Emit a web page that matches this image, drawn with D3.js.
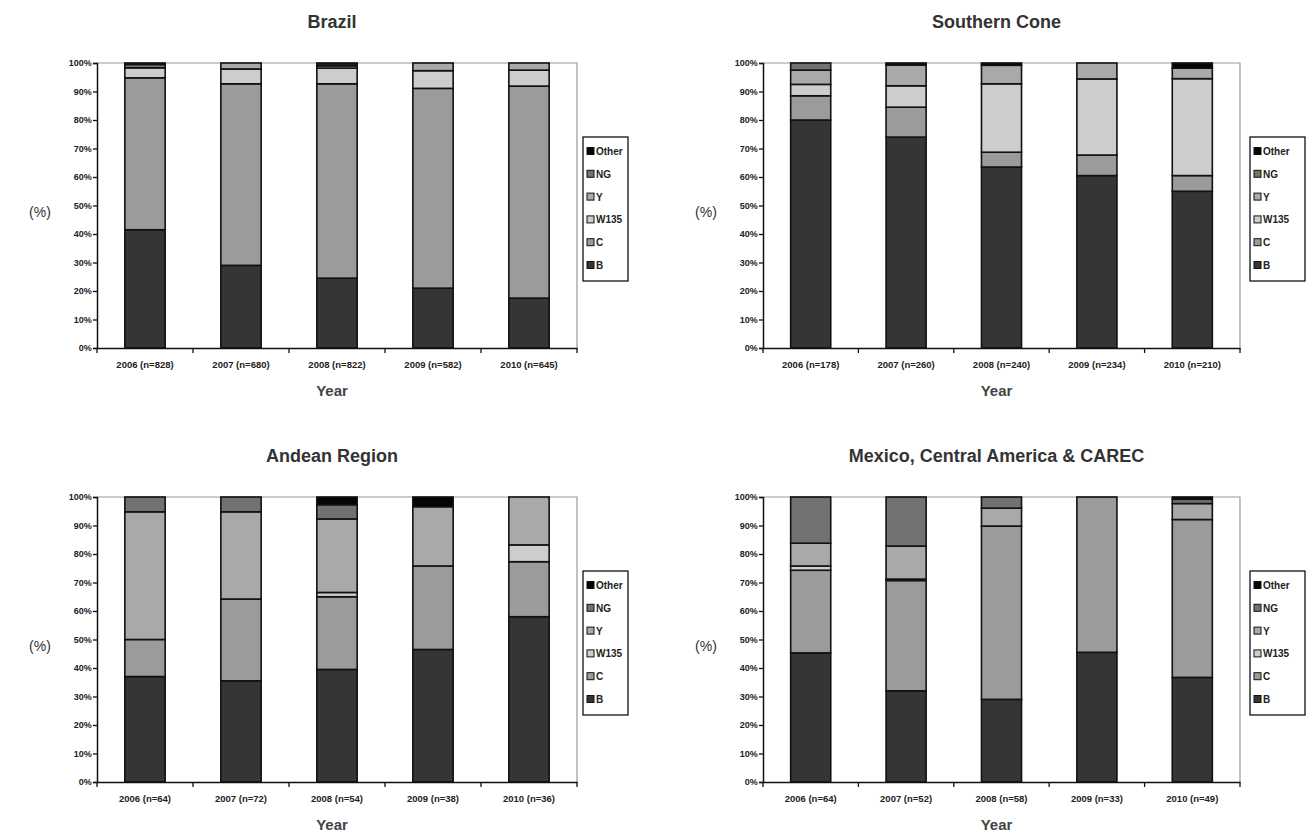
<!DOCTYPE html>
<html>
<head>
<meta charset="utf-8">
<script src="https://cdn.jsdelivr.net/npm/d3@7"></script>
<style>
  body { margin: 0; background: #fff; }
  svg text { font-family: "Liberation Sans", Arial, sans-serif; }
</style>
</head>
<body>
<div id="container"></div>
<script>
const series = ["B", "C", "W135", "Y", "NG", "Other"];
const legendOrder = ["Other", "NG", "Y", "W135", "C", "B"];
const years = ["2006", "2007", "2008", "2009", "2010"];
const yTicks = [0, 10, 20, 30, 40, 50, 60, 70, 80, 90, 100];

// Brazil
const brazilN = [828, 680, 822, 582, 645];
const brazilB = [41.5, 29, 24.5, 21, 17.5];
const brazilC = [53.3, 63.7, 68.2, 70.1, 74.4];
const brazilW135 = [3.5, 5.2, 5.5, 6.2, 5.6];
const brazilY = [0, 2.1, 0.8, 2.7, 2.5];
const brazilNG = [1.2, 0, 0.7, 0, 0];
const brazilOther = [0.5, 0, 0.3, 0, 0];

// Southern Cone
const southN = [178, 260, 240, 234, 210];
const southB = [80, 74, 63.5, 60.5, 55];
const southC = [8.5, 10.5, 5.2, 7.2, 5.5];
const southW135 = [4, 7.5, 24, 26.7, 34];
const southY = [5, 7.3, 6.5, 5.6, 3.7];
const southNG = [2.5, 0.3, 0, 0, 0];
const southOther = [0, 0.4, 0.8, 0, 1.8];

// Andean Region
const andeanN = [64, 72, 54, 38, 36];
const andeanB = [37, 35.5, 39.5, 46.5, 58];
const andeanC = [13, 28.7, 25.5, 29.3, 19.3];
const andeanW135 = [0, 0, 1.5, 0, 5.9];
const andeanY = [44.8, 30.6, 25.8, 20.8, 16.8];
const andeanNG = [5.2, 5.2, 5, 0, 0];
const andeanOther = [0, 0, 2.7, 3.4, 0];

// Mexico, Central America & CAREC
const mexicoN = [64, 52, 58, 33, 49];
const mexicoB = [45.3, 32, 29, 45.5, 36.7];
const mexicoC = [29, 38.7, 60.8, 54.5, 55.4];
const mexicoW135 = [1.5, 0.5, 0, 0, 0];
const mexicoY = [8, 11.6, 6.3, 0, 5.6];
const mexicoNG = [16.2, 17.2, 3.9, 0, 1.5];
const mexicoOther = [0, 0, 0, 0, 0.8];

const color = d3.scaleOrdinal()
  .domain(series)
  .range(["#353535", "#9b9b9b", "#cdcdcd", "#a9a9a9", "#727272", "#050505"]);

const width = 1313, height = 839;

const svg = d3.select("#container")
  .append("svg")
  .attr("width", width)
  .attr("height", height);

const makeRows = (n, cols) => years.map((yr, i) => {
  const row = { label: `${yr} (n=${n[i]})` };
  series.forEach((s, j) => row[s] = cols[j][i]);
  return row;
});

const panels = [
  { title: "Brazil", x0: 97, x1: 577, y0: 63, y1: 348, lx: 583, lw: 45,
    rows: makeRows(brazilN, [brazilB, brazilC, brazilW135, brazilY, brazilNG, brazilOther]) },
  { title: "Southern Cone", x0: 763, x1: 1240, y0: 63, y1: 348, lx: 1250, lw: 55,
    rows: makeRows(southN, [southB, southC, southW135, southY, southNG, southOther]) },
  { title: "Andean Region", x0: 97, x1: 577, y0: 497, y1: 782, lx: 583, lw: 45,
    rows: makeRows(andeanN, [andeanB, andeanC, andeanW135, andeanY, andeanNG, andeanOther]) },
  { title: "Mexico, Central America & CAREC", x0: 763, x1: 1240, y0: 497, y1: 782, lx: 1250, lw: 55,
    rows: makeRows(mexicoN, [mexicoB, mexicoC, mexicoW135, mexicoY, mexicoNG, mexicoOther]) }
];

const stack = d3.stack().keys(series);

const drawPanel = (p) => {
  const g = svg.append("g");

  const x = d3.scaleBand()
    .domain(p.rows.map(d => d.label))
    .range([p.x0, p.x1])
    .paddingInner(0.58)
    .paddingOuter(0.29);

  const y = d3.scaleLinear()
    .domain([0, 100])
    .range([p.y1, p.y0]);

  // title
  g.append("text")
    .attr("x", (p.x0 + p.x1) / 2 - 5)
    .attr("y", p.y0 - 35)
    .attr("text-anchor", "middle")
    .attr("font-size", 18)
    .attr("font-weight", "bold")
    .attr("fill", "#333")
    .text(p.title);

  // plot area frame (top and right)
  g.append("path")
    .attr("d", `M${p.x0},${p.y0}H${p.x1}V${p.y1}`)
    .attr("fill", "none")
    .attr("stroke", "#999")
    .attr("stroke-width", 1.2);

  // bars
  const layers = stack(p.rows);
  g.selectAll("g.layer")
    .data(layers)
    .enter()
    .append("g")
    .attr("fill", d => color(d.key))
    .selectAll("rect")
    .data(d => d.filter(s => s[1] - s[0] > 0))
    .enter()
    .append("rect")
    .attr("x", d => x(d.data.label))
    .attr("width", x.bandwidth())
    .attr("y", d => y(d[1]))
    .attr("height", d => y(d[0]) - y(d[1]))
    .attr("stroke", "#111")
    .attr("stroke-width", 1.6);

  // y axis
  const yAxis = d3.axisLeft(y)
    .tickValues(yTicks)
    .tickSize(4)
    .tickFormat(d => d + "%");
  const ya = g.append("g")
    .attr("transform", `translate(${p.x0},0)`)
    .call(yAxis);
  ya.select(".domain").attr("stroke", "#111").attr("stroke-width", 1.5);
  ya.selectAll(".tick line").attr("stroke", "#111").attr("stroke-width", 1.3);
  ya.selectAll("text")
    .attr("font-size", 9)
    .attr("font-weight", "bold")
    .attr("fill", "#222")
    .attr("dx", "0.2em");

  // x axis: labels under bars, ticks at category boundaries
  const xAxis = d3.axisBottom(x).tickSize(0).tickPadding(13);
  const xa = g.append("g")
    .attr("transform", `translate(0,${p.y1})`)
    .call(xAxis);
  xa.select(".domain").attr("stroke", "#111").attr("stroke-width", 1.5);
  xa.selectAll("text")
    .attr("font-size", 9.5)
    .attr("font-weight", "bold")
    .attr("fill", "#222");

  g.selectAll("line.cat-tick")
    .data(d3.range(p.rows.length + 1))
    .enter()
    .append("line")
    .attr("class", "cat-tick")
    .attr("x1", i => p.x0 + i * (p.x1 - p.x0) / p.rows.length)
    .attr("x2", i => p.x0 + i * (p.x1 - p.x0) / p.rows.length)
    .attr("y1", p.y1)
    .attr("y2", p.y1 + 5)
    .attr("stroke", "#111")
    .attr("stroke-width", 1.3);

  // axis titles
  g.append("text")
    .attr("x", (p.x0 + p.x1) / 2 - 5)
    .attr("y", p.y1 + 48)
    .attr("text-anchor", "middle")
    .attr("font-size", 15)
    .attr("font-weight", "bold")
    .attr("fill", "#444")
    .text("Year");

  g.append("text")
    .attr("x", p.x0 - 57)
    .attr("y", (p.y0 + p.y1) / 2 + 11)
    .attr("text-anchor", "middle")
    .attr("font-size", 14)
    .attr("fill", "#333")
    .text("(%)");

  // legend
  const ly = p.y0 + 74;
  const lg = g.append("g").attr("transform", `translate(${p.lx},${ly})`);
  lg.append("rect")
    .attr("width", p.lw)
    .attr("height", 144)
    .attr("fill", "#fff")
    .attr("stroke", "#111")
    .attr("stroke-width", 1.3);

  const item = lg.selectAll("g.item")
    .data(legendOrder)
    .enter()
    .append("g")
    .attr("transform", (d, i) => `translate(4,${14 + i * 22.8})`);
  item.append("rect")
    .attr("x", 0)
    .attr("y", -3.5)
    .attr("width", 7)
    .attr("height", 7)
    .attr("fill", d => color(d))
    .attr("stroke", "#111")
    .attr("stroke-width", 1);
  item.append("text")
    .attr("x", 9)
    .attr("y", 4)
    .attr("font-size", 10)
    .attr("font-weight", "bold")
    .attr("fill", "#222")
    .text(d => d);
};

panels.forEach(drawPanel);
</script>
</body>
</html>
